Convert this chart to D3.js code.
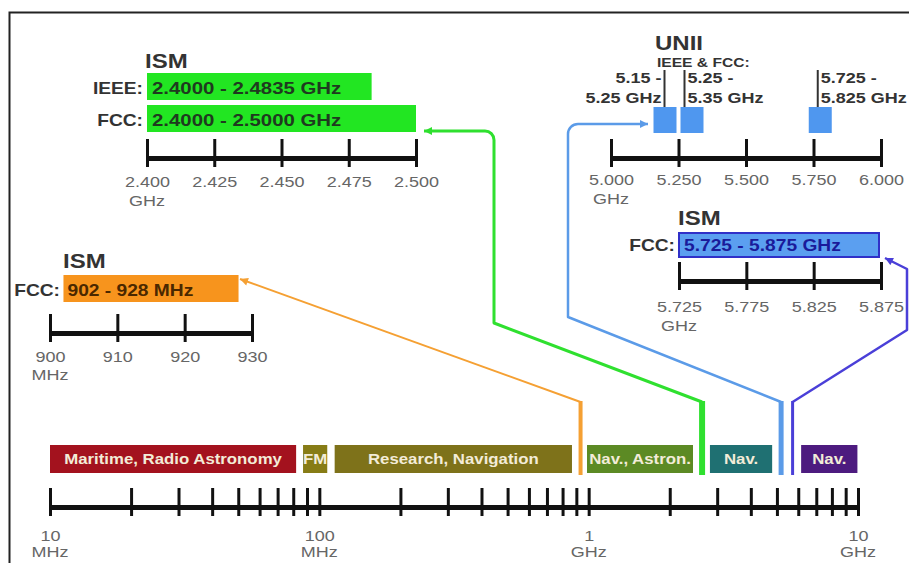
<!DOCTYPE html>
<html><head><meta charset="utf-8">
<script src="https://cdn.jsdelivr.net/npm/d3@7"></script>
<style>
body{margin:0;background:#fff;}
svg{display:block;font-family:"Liberation Sans",Arial,Helvetica,sans-serif;}
</style></head><body>
<svg id="c" width="909" height="563"></svg>
<script>
// ---------- data ----------
const mainTickValues = [10,20,30,40,50,60,70,80,90,100,200,300,400,500,600,700,800,900,1000,2000,3000,4000,5000,6000,7000,8000,9000,10000];
const mainLabelValues = [10,100,1000,10000];
const mainLabelNumbers = ["10","100","1","10"];
const mainLabelUnits = ["MHz","MHz","GHz","GHz"];

const bandNames = ["Maritime, Radio Astronomy","FM","Research, Navigation","Nav., Astron.","Nav.","Nav."];
const bandStart = [10,87,114,986,2820,6150];
const bandEnd   = [82,107,867,2440,4800,9950];
const bandColors = ["#a3121e","#877c16","#7e721a","#5c8a24","#1f7072","#4d1b7f"];

const ism24Ticks = [2.400,2.425,2.450,2.475,2.500];
const ism24TickLabels = ["2.400","2.425","2.450","2.475","2.500"];
const ism24Orgs = ["IEEE:","FCC:"];
const ism24Start = [2.4,2.4];
const ism24End = [2.4835,2.5];
const ism24Text = ["2.4000 - 2.4835 GHz","2.4000 - 2.5000 GHz"];

const uniiTicks = [5.0,5.25,5.5,5.75,6.0];
const uniiTickLabels = ["5.000","5.250","5.500","5.750","6.000"];
const uniiStart = [5.15,5.25,5.725];
const uniiEnd = [5.25,5.35,5.825];
const uniiText1 = ["5.15 -","5.25 -","5.725 -"];
const uniiText2 = ["5.25 GHz","5.35 GHz","5.825 GHz"];

const ism58Ticks = [5.725,5.775,5.825,5.875];
const ism58TickLabels = ["5.725","5.775","5.825","5.875"];
const ism58Start = [5.725];
const ism58End = [5.875];
const ism58Text = ["5.725 - 5.875 GHz"];

const ism900Ticks = [900,910,920,930];
const ism900TickLabels = ["900","910","920","930"];
const ism900Start = [902];
const ism900End = [928];
const ism900Text = ["902 - 928 MHz"];

// frequency (MHz) where each connector meets the main axis, as drawn
const connectorFreq = [933, 2637, 5182, 5717];
const connectorColors = ["#f5a033","#2fe02f","#5b9be8","#4a3fd8"];

// ---------- drawing ----------
const svg = d3.select("#c");
const SX = 1.2;
function T(parent, x, y, s, size, weight, fill, anchor){
  return parent.append("text")
    .attr("transform",`translate(${x},${y}) scale(${SX},1)`)
    .attr("font-size",size).attr("font-weight",weight)
    .attr("fill",fill).attr("text-anchor",anchor||"start").text(s);
}
function drawAxis(scale, y, ticks, labels, unit, lblOff, unitOff){
  const g = svg.append("g").attr("transform",`translate(0,${y})`);
  g.call(d3.axisBottom(scale).tickValues(ticks).tickSize(0).tickSizeOuter(0).tickPadding(0)
        .tickFormat((d,i)=>labels[i]));
  g.attr("font-family",null).attr("font-size",null);
  g.select(".domain").attr("stroke","#111").attr("stroke-width",5);
  g.selectAll(".tick line").attr("y1",-19).attr("y2",9).attr("stroke","#111").attr("stroke-width",3);
  g.selectAll(".tick text").attr("y",null).attr("dy",null)
    .attr("transform",`translate(0,${lblOff}) scale(${SX},1)`)
    .attr("font-size",15).attr("fill","#666");
  if(unit) T(svg, scale(ticks[0]), y+unitOff, unit, 15, 400, "#666", "middle");
  return g;
}

// frame
svg.append("path").attr("d","M9.5,563V12.5H909").attr("fill","none").attr("stroke","#222").attr("stroke-width",2);

// markers
const defs = svg.append("defs");
connectorColors.forEach((c,i)=>{
  defs.append("marker").attr("id","arr"+i).attr("viewBox","0 0 10 10")
    .attr("refX",10).attr("refY",5).attr("markerWidth",9).attr("markerHeight",8)
    .attr("markerUnits","userSpaceOnUse").attr("orient","auto-start-reverse")
    .append("path").attr("d","M0,0L10,5L0,10z").attr("fill",c);
});

// main scale
const xMain = d3.scaleLog().domain([10,10000]).range([50,858]);

// ---------- connectors ----------
const cx = connectorFreq.map(f=>xMain(f));
const paths = [];
{ const p=d3.path(); p.moveTo(240,279); p.lineTo(cx[0],402); paths.push(p.toString()); }
{ const p=d3.path(); p.moveTo(424,131); p.arcTo(494,131,494,323,9); p.lineTo(494,323); p.lineTo(cx[1],402); paths.push(p.toString()); }
{ const p=d3.path(); p.moveTo(648,124); p.arcTo(568,124,568,317,10); p.lineTo(568,317); p.lineTo(cx[2],402); paths.push(p.toString()); }
{ const p=d3.path(); p.moveTo(885,258); p.lineTo(907,269); p.lineTo(907,330); p.lineTo(cx[3],402); paths.push(p.toString()); }
const thinW = [2,3,2.5,2.5], thickW=[4,6,5,3];
paths.forEach((d,i)=>{
  svg.append("path").attr("d",d).attr("fill","none").attr("stroke",connectorColors[i])
    .attr("stroke-width",thinW[i]).attr("stroke-linejoin","round").attr("marker-start",`url(#arr${i})`);
  svg.append("line").attr("x1",cx[i]).attr("x2",cx[i]).attr("y1",401).attr("y2",475)
    .attr("stroke",connectorColors[i]).attr("stroke-width",thickW[i]);
});

// ---------- bands ----------
bandNames.forEach((n,i)=>{
  const x0=xMain(bandStart[i]), x1=xMain(bandEnd[i]);
  svg.append("rect").attr("x",x0).attr("y",445).attr("width",x1-x0).attr("height",28).attr("fill",bandColors[i]);
  T(svg,(x0+x1)/2,464,n,14,700,"#f3ecd8","middle");
});

// main axis
drawAxis(xMain, 507, mainTickValues,
  mainTickValues.map(v=>{const k=mainLabelValues.indexOf(v); return k>=0?mainLabelNumbers[k]:"";}), null, 34, 51);
mainLabelValues.forEach((v,i)=>T(svg,xMain(v),557,mainLabelUnits[i],15,400,"#666","middle"));

// ---------- ISM 2.4 GHz ----------
const x24 = d3.scaleLinear().domain([2.4,2.5]).range([147,416]);
T(svg,145,68,"ISM",20,700,"#333");
ism24Orgs.forEach((o,i)=>{
  const y = 73 + i*32;
  svg.append("rect").attr("x",x24(ism24Start[i])).attr("y",y).attr("width",x24(ism24End[i])-x24(ism24Start[i])).attr("height",27).attr("fill","#22e622");
  T(svg,143,y+21,o,16,700,"#333","end");
  T(svg,x24(ism24Start[i])+5,y+21,ism24Text[i],17,700,"#1f3a1f");
});
drawAxis(x24,158,ism24Ticks,ism24TickLabels,"GHz",29,48);

// ---------- UNII ----------
const xU = d3.scaleLinear().domain([5.0,6.0]).range([611,881]);
T(svg,655,50,"UNII",20,700,"#333");
T(svg,657,67,"IEEE & FCC:",13,700,"#333");
const uLineX = [xU(5.25)-14, xU(5.25)+6, xU(5.725)+11];
uniiStart.forEach((s,i)=>{
  svg.append("rect").attr("x",xU(s)+2).attr("y",107).attr("width",xU(uniiEnd[i])-xU(s)-4).attr("height",26).attr("fill","#4f97ef");
  svg.append("line").attr("x1",uLineX[i]).attr("x2",uLineX[i]).attr("y1",70).attr("y2",107).attr("stroke","#333").attr("stroke-width",2);
  const right = i===0;
  const tx = right ? uLineX[i]-3 : uLineX[i]+3;
  T(svg,tx,83,uniiText1[i],15,700,"#333",right?"end":"start");
  T(svg,tx,103,uniiText2[i],15,700,"#333",right?"end":"start");
});
drawAxis(xU,158,uniiTicks,uniiTickLabels,"GHz",27,46);

// ---------- ISM 5.8 GHz ----------
const x58 = d3.scaleLinear().domain([5.725,5.875]).range([679,881]);
T(svg,678,225,"ISM",20,700,"#333");
svg.append("rect").attr("x",x58(ism58Start[0])).attr("y",233).attr("width",x58(ism58End[0])-x58(ism58Start[0])-2).attr("height",24)
  .attr("fill","#5b9ff0").attr("stroke","#3030c8").attr("stroke-width",2);
T(svg,675,251,"FCC:",16,700,"#333","end");
T(svg,x58(ism58Start[0])+5,251,ism58Text[0],16,700,"#1a1a9a");
drawAxis(x58,281,ism58Ticks,ism58TickLabels,"GHz",31,50);

// ---------- ISM 900 MHz ----------
const x900 = d3.scaleLinear().domain([900,930]).range([50,252]);
T(svg,63,268,"ISM",20,700,"#333");
svg.append("rect").attr("x",x900(ism900Start[0])).attr("y",275).attr("width",x900(ism900End[0])-x900(ism900Start[0])).attr("height",27).attr("fill","#f7941d");
T(svg,60,296,"FCC:",16,700,"#333","end");
T(svg,x900(ism900Start[0])+4,296,ism900Text[0],16,700,"#4a2800");
drawAxis(x900,333,ism900Ticks,ism900TickLabels,"MHz",29,47);
</script>
</body></html>
